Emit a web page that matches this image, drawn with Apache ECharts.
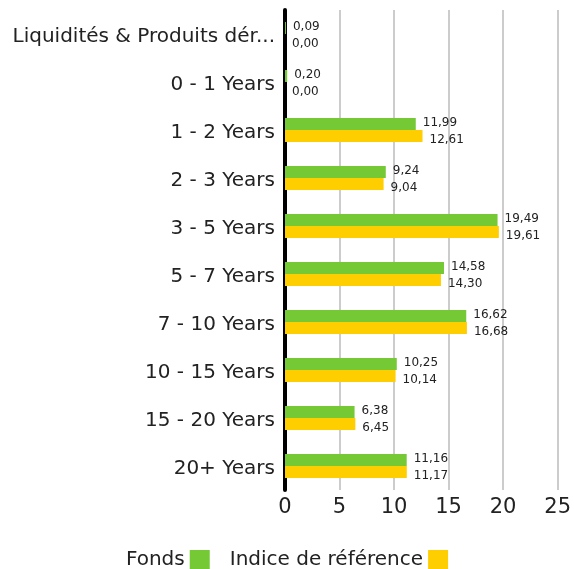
<!DOCTYPE html>
<html><head><meta charset="utf-8">
<script src="https://cdn.jsdelivr.net/npm/echarts@6/dist/echarts.min.js"></script>
<style>html,body{margin:0;padding:0;background:#fff}#c{width:574px;height:569px}</style>
</head><body><div id="c"></div>
<script>
const categories = ["Liquidités & Produits dérivés","0 - 1 Years","1 - 2 Years","2 - 3 Years","3 - 5 Years","5 - 7 Years","7 - 10 Years","10 - 15 Years","15 - 20 Years","20+ Years"];
const fonds = [0.09,0.20,11.99,9.24,19.49,14.58,16.62,10.25,6.38,11.16];
const indice = [0.00,0.00,12.61,9.04,19.61,14.30,16.68,10.14,6.45,11.17];
const seriesNames = ["Fonds","Indice de référence"];
const FONT = "'DejaVu Sans', sans-serif";
const chart = echarts.init(document.getElementById('c'));
const fmt = p => p.value.toFixed(2).replace('.', ',');
chart.setOption({
  animation:false,
  grid:{left:285,right:13,top:10,bottom:79},
  legend:{
    top:545,left:'center',align:'right',itemWidth:20,itemHeight:20,itemGap:20,
    icon:'rect',
    textStyle:{fontSize:20,color:'#222',fontFamily:FONT},
    data:seriesNames
  },
  xAxis:{type:'value',min:0,max:25,interval:5,
    axisLine:{show:false},axisTick:{show:false},
    splitLine:{show:true,lineStyle:{color:'#cccccc',width:2}},
    axisLabel:{fontSize:21,color:'#222',fontFamily:FONT,margin:7}
  },
  yAxis:{type:'category',inverse:true,data:categories,
    axisLine:{show:true,lineStyle:{color:'#000',width:4}},axisTick:{show:false},
    axisLabel:{fontSize:20,color:'#222',fontFamily:FONT,margin:10,width:280,overflow:'truncate',ellipsis:'...',
      formatter:v=>'{a|'+v+'}',
      rich:{a:{fontSize:20,color:'#222',fontFamily:FONT,padding:[6,0,0,0]}}}
  },
  series:[
    {name:seriesNames[0],type:'bar',data:fonds,barWidth:12,barGap:'0%',
     itemStyle:{color:'#74C935'},
     label:{show:true,position:'right',distance:7,offset:[0,-1],formatter:fmt,fontSize:12,color:'#222',fontFamily:FONT}},
    {name:seriesNames[1],type:'bar',data:indice,barWidth:12,barGap:'0%',
     itemStyle:{color:'#FFCE00'},
     label:{show:true,position:'right',distance:7,offset:[0,4],formatter:fmt,fontSize:12,color:'#222',fontFamily:FONT}}
  ]
});
</script></body></html>
